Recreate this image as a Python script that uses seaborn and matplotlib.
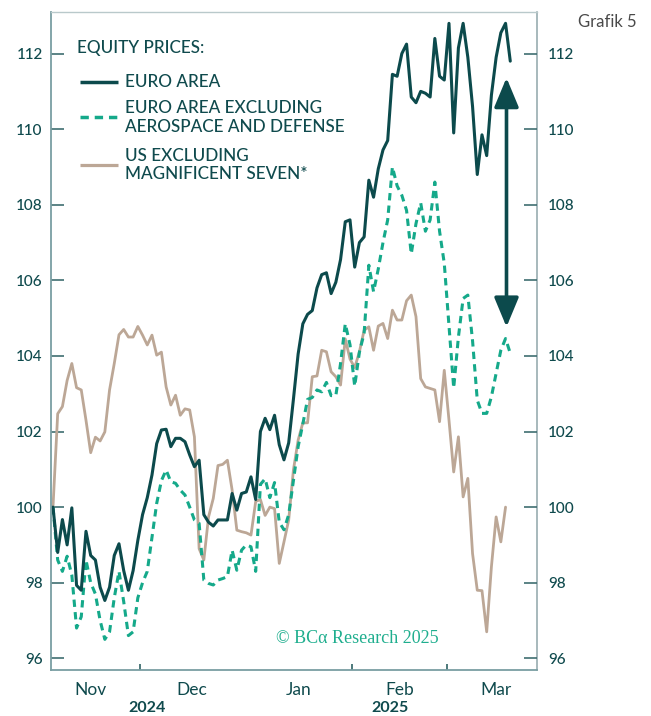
import numpy as np
import pandas as pd
import matplotlib
matplotlib.use("Agg")
import matplotlib.pyplot as plt
import seaborn as sns
from matplotlib.transforms import blended_transform_factory

# ---------------- data ----------------
start_date = "2024-11-05"

euro_area = [100.0, 98.8, 99.67, 99.0, 99.98, 97.93, 97.8, 99.36, 98.72, 98.6,
             97.88, 97.53, 97.88, 98.72, 99.03, 98.32, 97.8, 98.32, 99.12, 99.8,
             100.25, 100.85, 101.68, 102.04, 102.06, 101.6, 101.82, 101.82, 101.73, 101.38,
             101.07, 101.24, 99.8, 99.6, 99.5, 99.66, 99.66, 99.66, 100.36, 99.92,
             100.36, 100.4, 100.8, 100.2, 102.0, 102.35, 102.05, 102.43, 101.65, 101.25,
             101.7, 102.85, 104.05, 104.85, 105.1, 105.2, 105.8, 106.15, 106.2, 105.65,
             105.95, 106.55, 107.55, 107.6, 106.35, 107.0, 107.15, 108.65, 108.2, 108.95,
             109.45, 109.7, 111.45, 111.4, 112.0, 112.25, 110.85, 110.7, 111.0, 110.95,
             110.85, 112.4, 111.4, 111.3, 112.8, 109.9, 112.15, 112.8, 111.9, 110.6,
             108.8, 109.85, 109.3, 110.9, 111.9, 112.55, 112.8, 111.8]

euro_ex_ad = [100.0, 98.6, 98.3, 98.7, 98.2, 96.8, 97.1, 98.6, 98.0, 97.7,
              97.0, 96.5, 96.7, 97.6, 98.3, 97.5, 96.6, 96.7, 97.6, 98.0,
              98.3, 99.2, 100.1, 100.7, 100.98, 100.67, 100.63, 100.45, 100.32, 100.0,
              99.66, 99.57, 98.07, 97.98, 97.94, 98.07, 98.11, 98.16, 98.86, 98.33,
              98.86, 99.0, 98.95, 98.3, 100.6, 100.75, 100.25, 100.65, 99.6, 99.4,
              99.8, 100.7, 101.6, 102.2, 102.85, 102.9, 103.1, 103.05, 103.3, 102.95,
              102.95, 103.8, 104.85, 104.3, 103.2, 104.1, 104.6, 106.4, 105.7, 106.3,
              107.0, 107.6, 109.0, 108.5, 108.25, 107.85, 106.7, 107.5, 108.05, 107.3,
              107.6, 108.6, 107.3, 106.45, 104.8, 103.15, 104.5, 105.52, 105.61, 104.4,
              102.83, 102.48, 102.48, 102.92, 103.54, 104.15, 104.46, 104.07]

us_ex_mag7 = [100.0, 102.47, 102.66, 103.35, 103.8, 103.16, 103.1, 102.3, 101.44, 101.85,
              101.75, 101.99, 103.1, 103.8, 104.56, 104.7, 104.5, 104.5, 104.78, 104.55,
              104.29, 104.55, 104.02, 104.1, 103.18, 102.7, 102.96, 102.43, 102.6, 102.57,
              101.86, 98.9, 98.6, 99.74, 100.23, 101.1, 101.13, 101.24, 100.45, 99.39,
              99.35, 99.32, 99.26, 100.15, 100.2, 99.78, 100.0, 99.96, 98.51, 99.08,
              99.66, 100.98, 101.77, 102.23, 102.23, 103.45, 103.47, 104.15, 104.11, 103.58,
              103.45, 103.23, 104.45, 103.92, 103.69, 104.11, 104.68, 104.77, 104.15, 104.79,
              104.86, 104.46, 105.21, 104.95, 104.95, 105.46, 105.61, 105.04, 103.4, 103.18,
              103.14, 103.1, 102.26, 103.62, 102.3, 100.93, 101.86, 100.27, 100.76, 98.77,
              97.8, 97.79, 96.7, 98.42, 99.74, 99.08, 100.0]

series_labels = ["EURO AREA",
                 "EURO AREA EXCLUDING\nAEROSPACE AND DEFENSE",
                 "US EXCLUDING\nMAGNIFICENT SEVEN*"]
legend_title = "EQUITY PRICES:"
y_ticks = [96, 98, 100, 102, 104, 106, 108, 110, 112]
month_labels = ["Nov", "Dec", "Jan", "Feb", "Mar"]
year_labels = ["2024", "2025"]
source_text = "© BCα Research 2025"
chart_tag = "Grafik 5"

# ---------------- styling ----------------
C_EURO = "#0c4a4c"
C_DEF = "#15a98a"
C_US = "#bca796"
C_TEXT = "#0f4a4d"
C_SPINE = "#7a9ea2"

sns.set_theme(style="white")
plt.rcParams["font.family"] = ["Lato", "DejaVu Sans"]

fig = plt.figure(figsize=(6.51, 7.16), dpi=100)
ax = fig.add_axes([51 / 651, 1 - 670 / 716, 486 / 651, 658 / 716])

# business-day positions
cal = pd.bdate_range("2024-11-01", "2025-03-31")
origin = cal.get_loc(pd.Timestamp(start_date))
cal_pos = np.arange(len(cal)) - origin

frames = []
for name, vals in zip(series_labels, [euro_area, euro_ex_ad, us_ex_mag7]):
    frames.append(pd.DataFrame({"pos": np.arange(len(vals)), "value": vals, "series": name}))
df = pd.concat(frames, ignore_index=True)

styles = {
    series_labels[0]: dict(color=C_EURO, lw=2.2, ls="-"),
    series_labels[1]: dict(color=C_DEF, lw=2.2, ls=(0, (2.4, 1.7))),
    series_labels[2]: dict(color=C_US, lw=2.0, ls="-"),
}
for name in [series_labels[2], series_labels[1], series_labels[0]]:
    st = styles[name]
    sns.lineplot(data=df[df.series == name], x="pos", y="value", ax=ax,
                 color=st["color"], linewidth=st["lw"], linestyle=st["ls"],
                 legend=False, errorbar=None)

x_lo, x_hi = -0.42, 102.67
ax.set_xlim(x_lo, x_hi)
ax.set_ylim(95.69, 113.1)
ax.set_xlabel("")
ax.set_ylabel("")

# spines
for side in ["left", "bottom"]:
    ax.spines[side].set_color(C_SPINE)
    ax.spines[side].set_linewidth(1.3)
ax.spines["right"].set_color("#8fa6a9")
ax.spines["right"].set_linewidth(1.1)
ax.spines["top"].set_color("#b9c9cb")
ax.spines["top"].set_linewidth(1.0)

# y ticks both sides
ax.set_yticks(y_ticks)
ax.set_yticklabels([str(t) for t in y_ticks])
ax.tick_params(axis="y", direction="in", length=9.5, width=1.2, color="#3f6e71",
               labelsize=11, labelcolor=C_TEXT, pad=6, left=True)
for lab in ax.get_yticklabels():
    lab.set_fontweight("medium")
ax2 = ax.twinx()
ax2.set_ylim(ax.get_ylim())
ax2.set_yticks(y_ticks)
ax2.set_yticklabels([str(t) for t in y_ticks])
ax2.tick_params(axis="y", direction="in", length=9.5, width=1.2, color="#3f6e71",
                labelsize=11, labelcolor=C_TEXT, pad=8, right=True)
for lab in ax2.get_yticklabels():
    lab.set_fontweight("medium")
for s in ax2.spines.values():
    s.set_visible(False)
ax2.grid(False)

# x ticks: month boundaries
months = cal.to_period("M")
month_ids = months.unique()
centers = [cal_pos[months == m].mean() for m in month_ids]
bounds = [cal_pos[months == m][0] - 0.5 for m in month_ids[1:]]
year_break = bounds[1]
ax.set_xticks([year_break])
ax.set_xticklabels([""])
ax.set_xticks([b for b in bounds if b != year_break], minor=True)
ax.tick_params(axis="x", which="major", direction="in", length=9.5, width=1.6, color=C_TEXT)
ax.tick_params(axis="x", which="minor", direction="in", length=4, width=1.3, color="#3f6e71", bottom=True)

trans = blended_transform_factory(ax.transData, ax.transAxes)
for c, lab in zip(centers, month_labels):
    ax.annotate(lab, xy=(c, 0), xycoords=trans, xytext=(0, -14.5), textcoords="offset points",
                ha="center", va="center", fontsize=12.5, color=C_TEXT)
year_centers = [(x_lo + year_break) / 2, (year_break + x_hi) / 2]
for c, lab in zip(year_centers, year_labels):
    ax.annotate(lab, xy=(c, 0), xycoords=trans, xytext=(0, -27.5), textcoords="offset points",
                ha="center", va="center", fontsize=11.5, fontweight="bold", color=C_TEXT)

ax.grid(False)

# legend (manual)
ax.text(0.0535, 0.946, legend_title, transform=ax.transAxes, fontsize=12.3,
        color=C_TEXT, va="center", ha="left", fontweight="medium")
leg_y = [0.8936, 0.840, 0.7675]
for name, ly in zip(series_labels, leg_y):
    st = styles[name]
    ax.plot([0.0597, 0.1379], [ly, ly], transform=ax.transAxes, color=st["color"],
            lw=st["lw"] + 0.3, ls=st["ls"], solid_capstyle="butt")
    ax.text(0.152, ly, name, transform=ax.transAxes, fontsize=12.3, color=C_TEXT,
            va="center", ha="left", linespacing=1.2, fontweight="medium")

# double-headed arrow (gap between the two euro series)
ax.annotate("", xy=(96.2, euro_area[-1]), xytext=(96.2, euro_ex_ad[-1]),
            arrowprops=dict(arrowstyle="<|-|>,head_length=1.2,head_width=0.5",
                            color=C_EURO, lw=2.6, mutation_scale=15,
                            shrinkA=19, shrinkB=12))

ax.text(0.63, 0.048, source_text, transform=ax.transAxes, fontsize=13,
        color="#1fae8e", ha="center", va="center", family=["Liberation Serif", "DejaVu Serif"])
fig.text(607 / 651, 1 - 22 / 716, chart_tag, fontsize=12, color="#4a4a4a",
         ha="center", va="center")

fig.savefig("out.png", dpi=100)
